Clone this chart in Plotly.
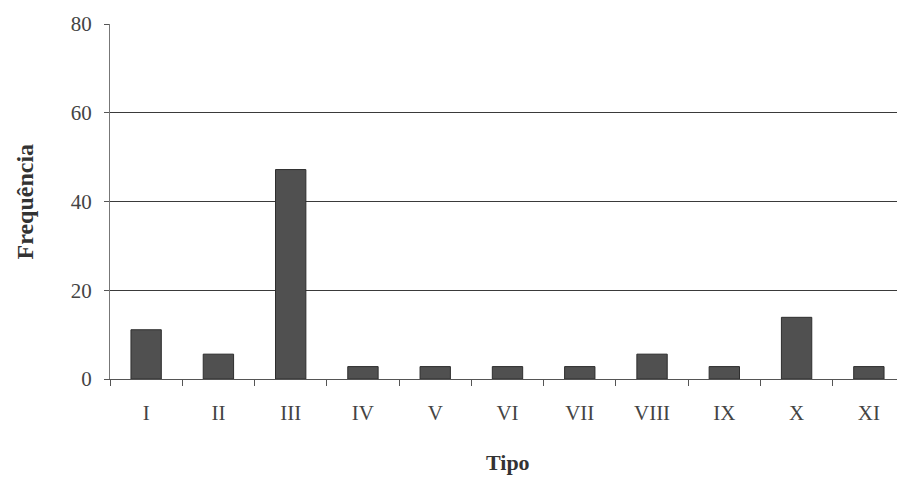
import plotly.graph_objects as go

categorias = ["I", "II", "III", "IV", "V", "VI", "VII", "VIII", "IX", "X", "XI"]
frequencia = [11.1, 5.6, 47.2, 2.8, 2.8, 2.8, 2.8, 5.6, 2.8, 13.9, 2.8]
y_ticks = [0, 20, 40, 60, 80]

fig = go.Figure(go.Bar(
    x=categorias, y=frequencia, width=0.42,
    marker=dict(color="#505050", line=dict(color="#2e2e2e", width=1)),
))

font_serif = "Liberation Serif, Times New Roman, serif"
fig.update_layout(
    width=897, height=470,
    margin=dict(l=102, r=0, t=16, b=99),
    paper_bgcolor="white", plot_bgcolor="white",
    showlegend=False,
    font=dict(family=font_serif, color="#444444", size=21),
    annotations=[
        dict(text="<b>Tipo</b>", xref="paper", yref="paper", x=0.5, y=-0.234,
             xanchor="center", yanchor="middle", showarrow=False,
             font=dict(family=font_serif, size=22, color="#333333")),
        dict(text="<b>Frequência</b>", xref="paper", yref="paper", x=-0.107, y=0.5,
             xanchor="center", yanchor="middle", showarrow=False, textangle=-90,
             font=dict(family=font_serif, size=24, color="#333333")),
    ],
)
fig.update_xaxes(
    range=[-0.5, 10.5], tickson="boundaries", ticks="outside", ticklen=6,
    tickcolor="#555555", showline=True, linecolor="#555555", linewidth=1,
    showgrid=False, ticklabelstandoff=15, automargin=False,
)
fig.update_yaxes(
    range=[0, 80], tickvals=y_ticks, ticks="outside", ticklen=5, tickcolor="#555555",
    showline=True, linecolor="#777777", linewidth=1,
    showgrid=True, gridcolor="#3a3a3a", gridwidth=1, zeroline=False,
    ticklabelstandoff=8, automargin=False,
)
fig.write_html("out.html")
